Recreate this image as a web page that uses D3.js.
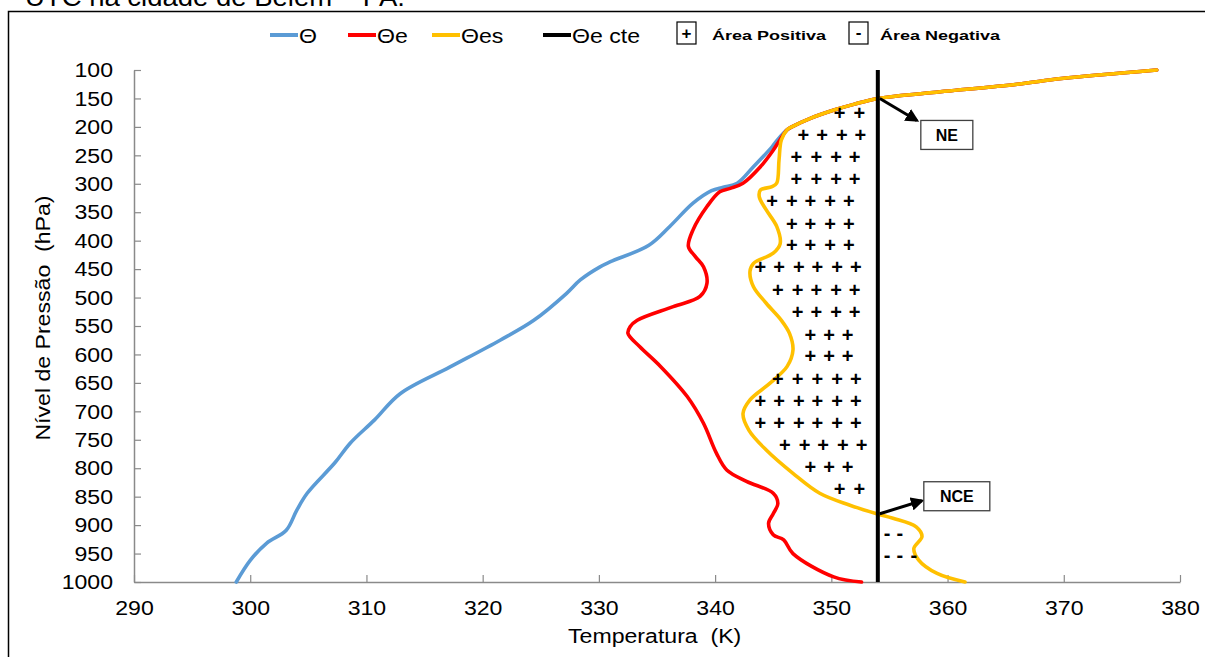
<!DOCTYPE html>
<html>
<head>
<meta charset="utf-8">
<script src="https://cdn.jsdelivr.net/npm/d3@7"></script>
<style>
  body { margin: 0; background: #fff; }
  text { font-family: "Liberation Sans", Arial, sans-serif; }
</style>
</head>
<body>
<div id="chart"></div>
<script>
// pressure levels (hPa) and temperatures (K)
var thetaP = [100, 115, 125, 140, 150, 160, 170, 185, 200, 205, 222, 235, 270, 299, 306, 312, 334, 375, 408, 437, 446, 469, 493, 540, 575, 622, 669, 715, 756, 790, 844, 874, 909, 932, 962, 1000];
var thetaT = [378, 369.8, 366, 358.5, 354, 352, 350.3, 348.2, 346.6, 346.2, 345.4, 344.9, 343.3, 341.9, 340.7, 339.7, 338.1, 336.1, 334.3, 331.0, 330.1, 328.4, 327.2, 324.4, 321.5, 317.2, 312.9, 310.7, 308.6, 307.3, 304.9, 304.0, 303.1, 301.4, 300.0, 298.8];

var thetaEP = [100, 115, 125, 140, 150, 160, 170, 185, 200, 205, 222, 241, 270, 299, 308, 314, 340, 381, 410, 428, 446, 475, 498, 516, 540, 551, 563, 586, 621, 674, 721, 773, 803, 823, 844, 862, 880, 897, 917, 926, 950, 991, 1000];
var thetaET = [378, 369.8, 366, 358.5, 354, 352, 350.3, 348.2, 346.6, 346.2, 345.6, 345.0, 343.9, 342.4, 341.3, 340.4, 339.3, 338.1, 337.7, 338.3, 339.0, 339.3, 338.7, 336.4, 333.3, 332.7, 332.5, 333.5, 335.3, 337.6, 339.0, 340.1, 341.0, 342.7, 345.0, 345.4, 345.0, 344.6, 345.0, 345.9, 346.7, 350.2, 352.6];

var thetaEsP = [100, 115, 125, 140, 150, 160, 170, 185, 200, 205, 223, 258, 299, 305, 311, 323, 346, 375, 405, 422, 440, 454, 481, 510, 540, 563, 592, 621, 651, 680, 704, 733, 768, 809, 844, 865, 880, 888, 903, 920, 941, 961, 985, 1000];
var thetaEsT = [378, 369.8, 366, 358.5, 354, 352, 350.3, 348.2, 346.6, 346.2, 345.7, 345.5, 345.3, 344.9, 343.9, 343.8, 344.4, 345.3, 345.6, 345.0, 343.3, 343.0, 343.3, 344.4, 345.7, 346.4, 346.7, 346.2, 344.7, 343.0, 342.4, 342.9, 344.4, 346.7, 349.0, 351.6, 353.9, 355.3, 357.3, 357.8, 357.1, 357.5, 359.1, 361.5];

var thetaEcte = 354;
var levelNE = 150;
var levelNCE = 880;

// "+" and "-" marks: pressure of each row, temperatures of marks in that row
var plusP = [175, 214, 253, 292, 331, 370, 408, 447, 487, 525, 565, 603, 643, 681, 721, 759, 798, 837];
var plusT = [
  [350.7, 352.4],
  [347.6, 349.2, 350.9, 352.5],
  [347.0, 348.7, 350.4, 352.0],
  [347.0, 348.7, 350.4, 352.0],
  [344.9, 346.6, 348.2, 349.9, 351.5],
  [346.6, 348.2, 349.9, 351.5],
  [346.6, 348.2, 349.9, 351.5],
  [343.9, 345.5, 347.2, 348.8, 350.5, 352.1],
  [345.4, 347.1, 348.7, 350.4, 352.0],
  [347.1, 348.7, 350.4, 352.0],
  [348.2, 349.8, 351.4],
  [348.2, 349.8, 351.4],
  [345.4, 347.1, 348.8, 350.5, 352.1],
  [343.9, 345.5, 347.2, 348.8, 350.5, 352.1],
  [343.9, 345.5, 347.2, 348.8, 350.5, 352.1],
  [346.0, 347.7, 349.3, 351.0, 352.6],
  [348.2, 349.8, 351.4],
  [350.7, 352.4]
];
var minusP = [917, 955];
var minusT = [
  [354.8, 355.9],
  [354.8, 355.9, 357.1]
];

var xTicks = [290, 300, 310, 320, 330, 340, 350, 360, 370, 380];
var yTicks = [100, 150, 200, 250, 300, 350, 400, 450, 500, 550, 600, 650, 700, 750, 800, 850, 900, 950, 1000];

var svgwidth = 1205;
var svgheight = 657;
var margin = { top: 70, right: 25, bottom: 75, left: 134 };
var width = svgwidth - margin.left - margin.right;
var height = svgheight - margin.top - margin.bottom;
var stretch = 1.1; // the picture's text is a bit wider than plain Arial

var svg = d3.select("#chart")
  .append("svg")
  .attr("width", svgwidth)
  .attr("height", svgheight);

// cut-off caption above the chart frame
svg.append("text")
  .attr("x", 25)
  .attr("y", 6)
  .attr("font-size", 25)
  .attr("textLength", 380)
  .attr("lengthAdjust", "spacingAndGlyphs")
  .text("UTC na cidade de Belém – PA.");

// chart frame
svg.append("rect")
  .attr("x", 8.5).attr("y", 11.5)
  .attr("width", 1300).attr("height", 700)
  .attr("fill", "none")
  .attr("stroke", "#000")
  .attr("stroke-width", 1.5);

var chart = svg.append("g").attr("transform", `translate(${margin.left}, ${margin.top})`);

var x = d3.scaleLinear().domain([290, 380]).range([0, width]);
var y = d3.scaleLinear().domain([100, 1000]).range([0, height]);

var xaxis = chart.append("g")
  .attr("transform", `translate(0, ${height})`)
  .call(d3.axisBottom(x).tickValues(xTicks).tickFormat(d3.format("d"))
    .tickSizeInner(-7).tickSizeOuter(0).tickPadding(18));

var yaxis = chart.append("g")
  .call(d3.axisLeft(y).tickValues(yTicks).tickFormat(d3.format("d"))
    .tickSizeInner(-7).tickSizeOuter(0).tickPadding(21));

[xaxis, yaxis].forEach(function(a) {
  a.select(".domain").attr("stroke", "#8a8a8a").attr("stroke-width", 1.5);
  a.selectAll(".tick line").attr("stroke", "#8a8a8a").attr("stroke-width", 1.2);
  a.selectAll(".tick text")
    .attr("fill", "#000")
    .attr("font-size", 21)
    .style("font-family", "'Liberation Sans', Arial, sans-serif");
});
yaxis.selectAll(".tick text")
  .attr("x", -21 / stretch)
  .attr("transform", `scale(${stretch},1)`);
xaxis.selectAll(".tick text")
  .attr("transform", `scale(${stretch},1)`);

chart.append("text")
  .attr("transform", `translate(${-84}, ${y(536)}) rotate(-90) scale(${stretch},1)`)
  .attr("text-anchor", "middle")
  .attr("font-size", 21)
  .attr("xml:space", "preserve")
  .text("Nível de Pressão  (hPa)");

chart.append("text")
  .attr("transform", `translate(${x(334.8)}, ${height + 61}) scale(${stretch},1)`)
  .attr("text-anchor", "middle")
  .attr("font-size", 21)
  .attr("xml:space", "preserve")
  .text("Temperatura  (K)");

var line = d3.line()
  .x(function(d) { return x(d[1]); })
  .y(function(d) { return y(d[0]); })
  .curve(d3.curveCatmullRom.alpha(0.5));

var series = [
  { p: thetaP, t: thetaT, color: "#5b9bd5" },
  { p: thetaEP, t: thetaET, color: "#ff0000" },
  { p: thetaEsP, t: thetaEsT, color: "#ffc000" }
];

series.forEach(function(s) {
  chart.append("path")
    .datum(d3.zip(s.p, s.t))
    .attr("d", line)
    .attr("fill", "none")
    .attr("stroke", s.color)
    .attr("stroke-width", 3.6)
    .attr("stroke-linejoin", "round")
    .attr("stroke-linecap", "round");
});

// theta-e constant
chart.append("line")
  .attr("x1", x(thetaEcte)).attr("x2", x(thetaEcte))
  .attr("y1", y(100)).attr("y2", y(1000))
  .attr("stroke", "#000")
  .attr("stroke-width", 4);

// + marks
plusP.forEach(function(p, i) {
  chart.selectAll(null)
    .data(plusT[i])
    .enter()
    .append("text")
    .attr("x", function(t) { return x(t); })
    .attr("y", y(p))
    .attr("dy", "0.35em")
    .attr("text-anchor", "middle")
    .attr("font-size", 20)
    .attr("font-weight", "bold")
    .text("+");
});

// - marks
minusP.forEach(function(p, i) {
  chart.selectAll(null)
    .data(minusT[i])
    .enter()
    .append("text")
    .attr("x", function(t) { return x(t); })
    .attr("y", y(p))
    .attr("dy", "0.27em")
    .attr("text-anchor", "middle")
    .attr("font-size", 20)
    .attr("font-weight", "bold")
    .text("-");
});

// arrows to NE / NCE labels
svg.append("defs").append("marker")
  .attr("id", "arrow")
  .attr("viewBox", "0 0 10 10")
  .attr("refX", 8).attr("refY", 5)
  .attr("markerWidth", 4.5).attr("markerHeight", 4.5)
  .attr("orient", "auto")
  .append("path")
  .attr("d", "M0,0 L10,5 L0,10 Z")
  .attr("fill", "#000");

var labels = [
  { name: "NE", p: levelNE, ax: 39, ay: 22, bx: 43, by: 22, bw: 52, bh: 29 },
  { name: "NCE", p: levelNCE, ax: 44, ay: -13, bx: 46, by: -32, bw: 66, bh: 29 }
];

labels.forEach(function(l) {
  var cx = x(thetaEcte), cy = y(l.p);
  chart.append("line")
    .attr("x1", cx + 2).attr("y1", cy)
    .attr("x2", cx + l.ax).attr("y2", cy + l.ay)
    .attr("stroke", "#000")
    .attr("stroke-width", 3)
    .attr("marker-end", "url(#arrow)");
  chart.append("rect")
    .attr("x", cx + l.bx).attr("y", cy + l.by)
    .attr("width", l.bw).attr("height", l.bh)
    .attr("fill", "#fff")
    .attr("stroke", "#404040")
    .attr("stroke-width", 1.3);
  chart.append("text")
    .attr("x", cx + l.bx + l.bw / 2)
    .attr("y", cy + l.by + l.bh / 2)
    .attr("dy", "0.36em")
    .attr("text-anchor", "middle")
    .attr("font-size", 16)
    .attr("font-weight", "bold")
    .text(l.name);
});

// legend
var legendY = 35;
var legendLines = [
  { label: "Θ", color: "#5b9bd5", x0: 270 },
  { label: "Θe", color: "#ff0000", x0: 348 },
  { label: "Θes", color: "#ffc000", x0: 432 },
  { label: "Θe cte", color: "#000", x0: 543 }
];
var legend = svg.append("g");
legendLines.forEach(function(d) {
  legend.append("line")
    .attr("x1", d.x0).attr("x2", d.x0 + 28)
    .attr("y1", legendY).attr("y2", legendY)
    .attr("stroke", d.color)
    .attr("stroke-width", 4);
  legend.append("text")
    .attr("transform", `translate(${d.x0 + 29}, ${legendY + 7.5}) scale(${stretch},1)`)
    .attr("font-size", 21)
    .text(d.label);
});

var legendBoxes = [
  { sym: "+", label: "Área Positiva", x0: 677, dy: "0.35em", gap: 35, tl: 114 },
  { sym: "-", label: "Área Negativa", x0: 849, dy: "0.27em", gap: 31, tl: 120 }
];
legendBoxes.forEach(function(d) {
  legend.append("rect")
    .attr("x", d.x0).attr("y", legendY - 13)
    .attr("width", 19).attr("height", 22)
    .attr("fill", "#fff")
    .attr("stroke", "#000")
    .attr("stroke-width", 1.2);
  legend.append("text")
    .attr("x", d.x0 + 9.5).attr("y", legendY - 2)
    .attr("dy", d.dy)
    .attr("text-anchor", "middle")
    .attr("font-size", 17)
    .attr("font-weight", "bold")
    .text(d.sym);
  legend.append("text")
    .attr("x", d.x0 + d.gap).attr("y", legendY + 5)
    .attr("font-size", 13)
    .attr("font-weight", "bold")
    .attr("textLength", d.tl)
    .attr("lengthAdjust", "spacingAndGlyphs")
    .text(d.label);
});
</script>
</body>
</html>
